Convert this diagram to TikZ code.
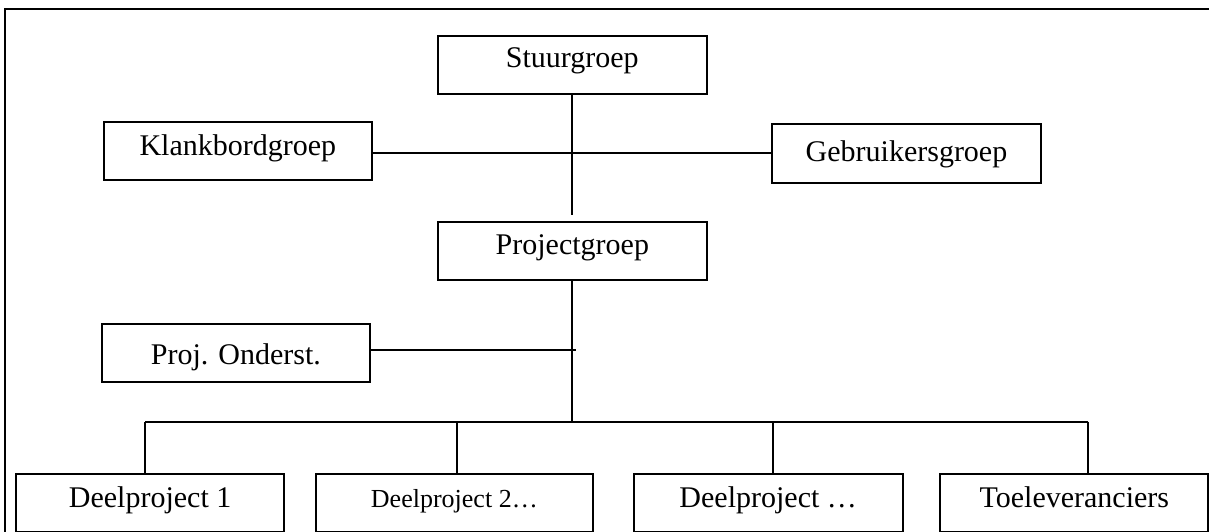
\documentclass[tikz,border=0pt]{standalone}
\usepackage{fontspec}
\setmainfont{Liberation Serif}
\begin{document}
\begin{tikzpicture}[x=1pt,y=-1pt,line width=2pt,
  box/.style={draw,rectangle,inner sep=0pt,anchor=north west,line width=2pt,
    font=\fontsize{30}{36}\selectfont},
  small/.style={font=\fontsize{26}{31}\selectfont},
  conn/.style={draw,line width=2pt}]
\useasboundingbox (0,0) rectangle (1209,531);
\clip (0,0) rectangle (1209,531);
% frame (top and left edges visible)
\draw[line width=2.2pt] (5,540) -- (5,9) -- (1215,9);
% boxes
\node[box,minimum width=269pt,text height=32pt,text depth=26.6pt] (stuur) at (436.7,34.7) {Stuurgroep};
\node[box,minimum width=268.3pt,text height=32.7pt,text depth=25.3pt] (klank) at (102.7,121.3) {Klankbordgroep};
\node[box,minimum width=269pt,text height=37pt,text depth=21.4pt] (gebr) at (771,123.3) {Gebruikersgroep};
\node[box,minimum width=268.7pt,text height=32pt,text depth=26.3pt] (proj) at (437,221) {Projectgroep};
\node[box,minimum width=268.6pt,text height=40pt,text depth=17.7pt] (ond) at (100.6,323.3) {Proj. Onderst.};
\node[box,minimum width=268.3pt,text height=33pt,text depth=25pt] (d1) at (15,473.3) {Deelproject 1};
\node[box,small,minimum width=276.7pt,text height=33pt,text depth=25pt] (d2) at (315,473.3) {Deelproject 2…};
\node[box,minimum width=269pt,text height=33pt,text depth=25pt] (d3) at (632.7,473.3) {Deelproject …};
\node[box,minimum width=268pt,text height=33pt,text depth=25pt] (d4) at (939.3,473.3) {Toeleveranciers};
% bus coordinates
\coordinate (b1) at (145,421.7);
\coordinate (b2) at (457,421.7);
\coordinate (b3) at (773.3,421.7);
\coordinate (b4) at (1087.7,421.7);
% connectors
\draw[conn,shorten >=6pt] (stuur.south) -- (stuur.south |- proj.north);
\draw[conn] ([yshift=-1.4pt]klank.east) -- ([yshift=-1.4pt]klank.east -| gebr.west);
\draw[conn] (proj.south) -- (proj.south |- b1);
\draw[conn] ([yshift=3pt]ond.east) -- ([yshift=3pt,xshift=4pt]ond.east -| proj.south);
\draw[conn] (b1) -- (b4);
\draw[conn] (b1) -- (b1 |- d1.north);
\draw[conn] (b2) -- (b2 |- d2.north);
\draw[conn] (b3) -- (b3 |- d3.north);
\draw[conn] (b4) -- (b4 |- d4.north);
\end{tikzpicture}
\end{document}
